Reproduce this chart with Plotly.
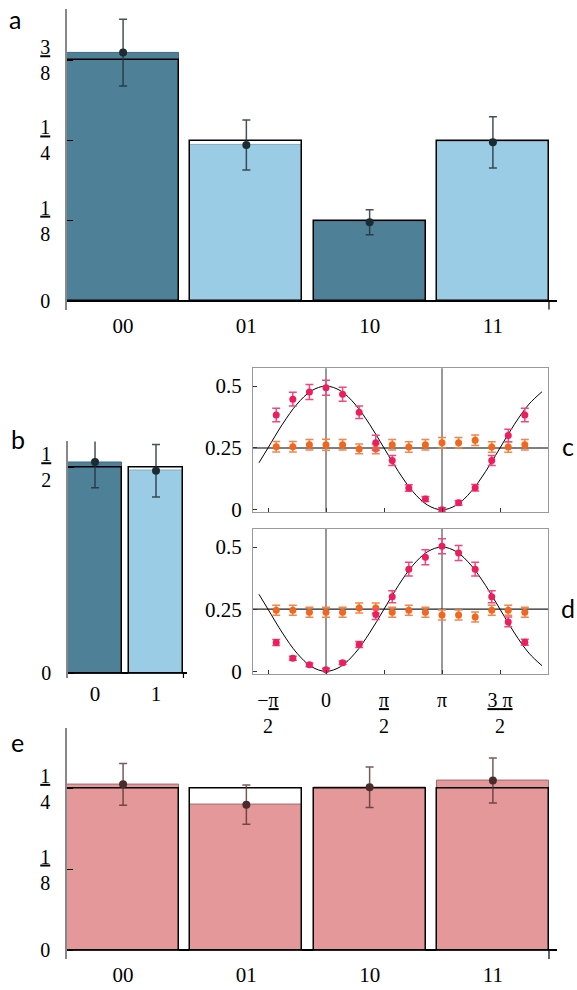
import plotly.graph_objects as go

# ---------------- data ----------------
states2 = ["00", "01", "10", "11"]
states1 = ["0", "1"]

a_ideal = [0.375, 0.25, 0.125, 0.25]
a_meas = [0.387, 0.243, 0.1225, 0.247]
a_err = [0.052, 0.039, 0.0195, 0.040]

b_ideal = [0.5, 0.5]
b_meas = [0.5125, 0.4915]
b_err = [0.0625, 0.0635]

e_ideal = [0.25, 0.25, 0.25, 0.25]
e_meas = [0.257, 0.2255, 0.2525, 0.263]
e_err = [0.0325, 0.0305, 0.0315, 0.035]

# phase (in units of pi)
phase = [-0.429, -0.286, -0.143, 0.0, 0.143, 0.286, 0.429, 0.571,
         0.714, 0.857, 1.0, 1.143, 1.286, 1.429, 1.571, 1.714]

c_pink = [0.383, 0.447, 0.476, 0.493, 0.467, 0.394, 0.271, 0.199,
          0.088, 0.044, 0.0, 0.028, 0.089, 0.199, 0.300, 0.383]
c_pink_err = [0.027, 0.028, 0.030, 0.030, 0.028, 0.025, 0.030, 0.020,
              0.013, 0.010, 0.008, 0.010, 0.013, 0.020, 0.025, 0.027]
c_orange = [0.255, 0.255, 0.263, 0.263, 0.263, 0.246, 0.246, 0.263,
            0.254, 0.263, 0.271, 0.271, 0.281, 0.254, 0.254, 0.263]
c_orange_err = [0.021, 0.021, 0.021, 0.022, 0.021, 0.020, 0.020, 0.021,
                0.021, 0.021, 0.021, 0.021, 0.021, 0.021, 0.021, 0.021]

d_pink = [0.116, 0.053, 0.027, 0.007, 0.035, 0.108, 0.229, 0.300,
          0.411, 0.459, 0.503, 0.476, 0.411, 0.300, 0.199, 0.117]
d_pink_err = [0.012, 0.008, 0.007, 0.006, 0.007, 0.012, 0.020, 0.024,
              0.028, 0.030, 0.030, 0.030, 0.028, 0.024, 0.020, 0.012]
d_orange = [0.246, 0.246, 0.238, 0.238, 0.238, 0.255, 0.255, 0.238,
            0.246, 0.238, 0.227, 0.227, 0.219, 0.246, 0.246, 0.238]
d_orange_err = [0.020, 0.020, 0.020, 0.020, 0.020, 0.020, 0.020, 0.020,
                0.020, 0.020, 0.020, 0.020, 0.020, 0.020, 0.020, 0.020]

# theory curves (phase in units of pi)
curve_phase = [-0.578, -0.5, -0.375, -0.25, -0.125, 0.0, 0.125, 0.25, 0.375,
               0.5, 0.625, 0.75, 0.875, 1.0, 1.125, 1.25, 1.375, 1.5, 1.625,
               1.75, 1.862]
c_curve = [0.19, 0.25, 0.346, 0.427, 0.481, 0.5, 0.481, 0.427, 0.346, 0.25,
           0.154, 0.073, 0.019, 0.0, 0.019, 0.073, 0.154, 0.25, 0.346, 0.427,
           0.477]
d_curve = [0.31, 0.25, 0.154, 0.073, 0.019, 0.0, 0.019, 0.073, 0.154, 0.25,
           0.346, 0.427, 0.481, 0.5, 0.481, 0.427, 0.346, 0.25, 0.154, 0.073,
           0.023]

frac_ticks_a = [0, 0.125, 0.25, 0.375]
frac_text_a = ["0", "<u>1</u><br>8", "<u>1</u><br>4", "<u>3</u><br>8"]
frac_ticks_b = [0, 0.5]
frac_text_b = ["0", "<u>1</u><br>2"]
frac_ticks_e = [0, 0.125, 0.25]
frac_text_e = ["0", "<u>1</u><br>8", "<u>1</u><br>4"]
phase_ticks = [-0.5, 0, 0.5, 1, 1.5]
phase_text = ["\u2212<u>\u03c0</u><br>2", "0", "<u>\u03c0</u><br>2", "\u03c0", "<u>3 \u03c0</u><br>2"]
prob_ticks = [0, 0.25, 0.5]
prob_text = ["0", "0.25", "0.5"]

# ---------------- style ----------------
W, H = 577, 990
SERIF = "Liberation Serif, DejaVu Serif, serif"
DARK = "#4e8098"
LIGHT = "#9bcce6"
RED = "#e49899"
DARK_EDGE = "#3e6b81"
LIGHT_EDGE = "#86aabd"
RED_EDGE = "#a46a6a"
PINK = "#ee1d5c"
PINK_ERR = "#f2487f"
ORANGE = "#f2661e"
ORANGE_ERR = "#f58548"
BAR_W = 0.91


def px_dom_x(a, b):
    return [a / W, b / W]


def px_dom_y(top, bottom):
    return [1 - bottom / H, 1 - top / H]


fig = go.Figure()


def add_bars(xa, ya, cats, meas, ideal, err, fills, edges, errcol, dotcol, bw):
    xs = list(range(len(cats)))
    fig.add_trace(go.Bar(x=xs, y=meas, width=bw, xaxis=xa, yaxis=ya,
                         marker=dict(color=fills, line=dict(color=edges, width=1)),
                         showlegend=False))
    fig.add_trace(go.Bar(x=xs, y=ideal, width=bw, xaxis=xa, yaxis=ya,
                         marker=dict(color="rgba(0,0,0,0)", line=dict(color="black", width=1.5)),
                         showlegend=False))
    fig.add_trace(go.Scatter(x=xs, y=meas, mode="markers", xaxis=xa, yaxis=ya,
                             marker=dict(color=dotcol, size=8),
                             error_y=dict(type="data", array=err, visible=True,
                                          color=errcol, thickness=1.5, width=4),
                             cliponaxis=False, showlegend=False))


add_bars("x", "y", states2, a_meas, a_ideal, a_err,
         [DARK, LIGHT, DARK, LIGHT], [DARK_EDGE, LIGHT_EDGE, DARK_EDGE, LIGHT_EDGE],
         "rgba(35,50,58,0.85)", "#1c2b31", BAR_W)
add_bars("x2", "y2", states1, b_meas, b_ideal, b_err,
         [DARK, LIGHT], [DARK_EDGE, LIGHT_EDGE],
         "rgba(35,50,58,0.85)", "#1c2b31", 0.9)
add_bars("x5", "y5", states2, e_meas, e_ideal, e_err,
         [RED] * 4, [RED_EDGE] * 4, "rgba(85,50,50,0.8)", "#4b2c2c", BAR_W)


def add_phase(xa, ya, curve, pink, pink_err, orange, orange_err):
    fig.add_trace(go.Scatter(x=curve_phase, y=curve, mode="lines", xaxis=xa, yaxis=ya,
                             line=dict(color="black", width=1, shape="spline"),
                             showlegend=False))
    fig.add_trace(go.Scatter(x=phase, y=orange, mode="markers", xaxis=xa, yaxis=ya,
                             marker=dict(color=ORANGE, size=7),
                             error_y=dict(type="data", array=orange_err, visible=True,
                                          color=ORANGE_ERR, thickness=1.5, width=4),
                             showlegend=False))
    fig.add_trace(go.Scatter(x=phase, y=pink, mode="markers", xaxis=xa, yaxis=ya,
                             marker=dict(color=PINK, size=7),
                             error_y=dict(type="data", array=pink_err, visible=True,
                                          color=PINK_ERR, thickness=1.5, width=4),
                             showlegend=False))


add_phase("x3", "y3", c_curve, c_pink, c_pink_err, c_orange, c_orange_err)
add_phase("x4", "y4", d_curve, d_pink, d_pink_err, d_orange, d_orange_err)

tickfont = dict(family=SERIF, size=21, color="black")
fracfont = dict(family=SERIF, size=20, color="black")

bar_x_common = dict(showgrid=False, zeroline=False, showline=False, ticks="",
                    tickfont=tickfont, ticklabelstandoff=1)
bar_y_common = dict(showgrid=False, showline=True, linecolor="#888888", linewidth=1.5,
                    ticks="inside", ticklen=6, tickcolor="black", tickwidth=1,
                    zeroline=True, zerolinecolor="black", zerolinewidth=1.5,
                    tickfont=fracfont, ticklabelstandoff=11)

fig.update_layout(
    width=W, height=H, margin=dict(l=0, r=0, t=0, b=0),
    plot_bgcolor="white", paper_bgcolor="white",
    barmode="overlay", bargap=0,
    xaxis=dict(domain=px_dom_x(67, 557), range=[-0.455, 3.52], anchor="y",
               tickvals=list(range(len(states2))), ticktext=states2, **bar_x_common),
    yaxis=dict(domain=px_dom_y(9, 313), range=[-0.014, 0.455], anchor="x",
               tickvals=frac_ticks_a, ticktext=frac_text_a, **bar_y_common),
    xaxis2=dict(domain=px_dom_x(68, 187), range=[-0.443, 1.508], anchor="y2",
                tickvals=list(range(len(states1))), ticktext=states1, **bar_x_common),
    yaxis2=dict(domain=px_dom_y(446, 685), range=[-0.012, 0.5625], anchor="x2",
                tickvals=frac_ticks_b, ticktext=frac_text_b, **bar_y_common),
    xaxis5=dict(domain=px_dom_x(67, 557), range=[-0.455, 3.52], anchor="y5",
                tickvals=list(range(len(states2))), ticktext=states2, **bar_x_common),
    yaxis5=dict(domain=px_dom_y(735, 969), range=[-0.014, 0.345], anchor="x5",
                tickvals=frac_ticks_e, ticktext=frac_text_e, **bar_y_common),
)

frame = dict(showgrid=False, zeroline=False, showline=True, mirror=True,
             linecolor="#9a9a9a", linewidth=1, ticks="inside", ticklen=4,
             tickcolor="#333333")
fig.update_layout(
    xaxis3=dict(domain=px_dom_x(253, 548), range=[-0.6293, 1.9138], anchor="y3",
                tickvals=phase_ticks, showticklabels=False, **frame),
    yaxis3=dict(domain=px_dom_y(372, 517), range=[-0.008, 0.572], anchor="x3",
                tickvals=prob_ticks, ticktext=prob_text, tickfont=tickfont,
                ticklabelstandoff=6, **frame),
    xaxis4=dict(domain=px_dom_x(253, 548), range=[-0.6293, 1.9138], anchor="y4",
                tickvals=phase_ticks, ticktext=phase_text, tickfont=fracfont,
                ticklabelstandoff=8, **frame),
    yaxis4=dict(domain=px_dom_y(534, 681), range=[-0.011, 0.574], anchor="x4",
                tickvals=prob_ticks, ticktext=prob_text, tickfont=tickfont,
                ticklabelstandoff=6, **frame),
)

shapes = []
# reference lines in c and d
for xa, ya, hcol, hw in [("x3", "y3", "#555555", 1.5), ("x4", "y4", "#222222", 1.2)]:
    for xv in [0, 1]:
        shapes.append(dict(type="line", xref=xa, yref=ya + " domain", x0=xv, x1=xv,
                           y0=0, y1=1, line=dict(color="#333333", width=1), layer="below"))
    shapes.append(dict(type="line", xref=xa + " domain", yref=ya, x0=0, x1=1,
                       y0=0.25, y1=0.25, line=dict(color=hcol, width=hw), layer="below"))
# end ticks on bar chart baselines
for xa, ya, n, bw, dy in [("x", "y", len(states2), BAR_W, 0.014),
                          ("x2", "y2", len(states1), 0.9, 0.012),
                          ("x5", "y5", len(states2), BAR_W, 0.014)]:
    xe = n - 1 + bw / 2
    shapes.append(dict(type="line", xref=xa, yref=ya, x0=xe, x1=xe, y0=0, y1=-dy,
                       line=dict(color="black", width=1.2)))
fig.update_layout(shapes=shapes)

letters = [("a", 15, 19), ("b", 18, 443), ("c", 568, 451), ("d", 568, 614), ("e", 17, 750)]
fig.update_layout(annotations=[
    dict(text=t, x=x / W, y=1 - y / H, xref="paper", yref="paper", showarrow=False,
         xanchor="center", yanchor="middle",
         font=dict(family="Lato", size=25, color="black"))
    for t, x, y in letters
])

fig.write_html("out.html", config={"displayModeBar": False},
               post_script="document.body.style.margin='0';document.body.style.overflow='hidden';")
